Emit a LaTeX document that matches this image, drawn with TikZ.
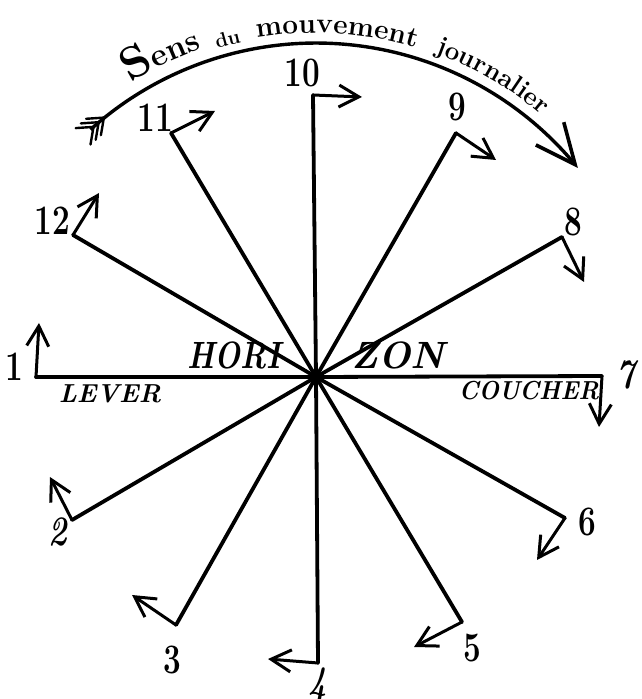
\documentclass[tikz,border=0pt]{standalone}
\usepackage{fontspec}
\usepackage{graphicx}
\usetikzlibrary{arrows.meta,bending,decorations.text}
\begin{document}
\begin{tikzpicture}[x=1pt,y=1pt,
  spoke/.style={line width=3.8pt, line cap=round},
  hookline/.style={line width=3pt, line cap=round, -{Straight Barb[length=20pt,width=22pt,line width=3pt]}},
  num/.style={inner sep=0pt, font=\fontsize{42}{42}\selectfont\bfseries},
  horiz/.style={inner sep=0pt, font=\fontsize{38}{38}\selectfont\bfseries\itshape},
  side/.style={inner sep=0pt, font=\fontsize{26}{26}\selectfont\bfseries\itshape},
  mainarc/.style={line width=3.4pt, -{Straight Barb[length=40pt,width=36pt,line width=3.6pt]}},
  feather/.style={line width=2.4pt, line cap=round}]
\useasboundingbox (0,0) rectangle (641,699);

% centre and arc centre
\coordinate (O) at (316,322);
\coordinate (AC) at (316,319);

% spoke corners (c) and hook tips (t)
\coordinate (c1) at (36,322);   \coordinate (t1) at (39,376);
\coordinate (c2) at (72,179);   \coordinate (t2) at (50,222);
\coordinate (c3) at (176,74);   \coordinate (t3) at (132,104);
\coordinate (c4) at (318,36);   \coordinate (t4) at (268,40);
\coordinate (c5) at (462,77);   \coordinate (t5) at (414,52);
\coordinate (c6) at (565,181);  \coordinate (t6) at (537,139);
\coordinate (c7) at (602,323);  \coordinate (t7) at (599,272);
\coordinate (c8) at (562,462);  \coordinate (t8) at (584,417);
\coordinate (c9) at (456,566);  \coordinate (t9) at (496,539);
\coordinate (c10) at (313,604); \coordinate (t10) at (362,602);
\coordinate (c11) at (171,566); \coordinate (t11) at (215,588);
\coordinate (c12) at (73,464);  \coordinate (t12) at (99,506);

\foreach \i in {1,...,12}{
  \draw[spoke] (O) -- (c\i);
  \draw[hookline] (c\i) -- (t\i);
}
\fill (O) circle (4);

% hour labels
\node[num] (l1) at (14,332) {\scalebox{0.75}[1]{1}};
\node[num] (l2) at (58,167) {\scalebox{0.75}[1]{\itshape 2}};
\node[num] (l3) at (172,39) {\scalebox{0.75}[1]{3}};
\node[num] (l4) at (318,13) {\scalebox{0.75}[1]{\itshape 4}};
\node[num] (l5) at (472,51) {\scalebox{0.75}[1]{5}};
\node[num] (l6) at (587,177) {\scalebox{0.75}[1]{6}};
\node[num] (l7) at (626,324) {\scalebox{0.75}[1]{\itshape 7}};
\node[num] (l8) at (573,477) {\scalebox{0.75}[1]{8}};
\node[num] (l9) at (457,592) {\scalebox{0.75}[1]{9}};
\node[num] (l10) at (302,626) {\scalebox{0.75}[1]{10}};
\node[num] (l11) at (155,581) {\scalebox{0.75}[1]{11}};
\node[num] (l12) at (52,478) {\scalebox{0.75}[1]{12}};

% horizon texts
\node[horiz] (hori) at (234,344) {\scalebox{0.8}[1]{HORI}};
\node[horiz] (zon) at (398,344) {ZON};
\node[side] (lever) at (110,305) {LEVER};
\node[side] (coucher) at (529,308) {\scalebox{0.92}[1]{COUCHER}};

% main arc with feathered tail
\coordinate (P) at (90.5,569.4);
\draw[mainarc] (P) arc[start angle=132, end angle=39, radius=337];
\coordinate (A0) at (93.5,572.1);  \coordinate (A0a) at (75.7,570.9); \coordinate (A0b) at (90.5,554.5);
\coordinate (A1) at (98.7,576.8);  \coordinate (A1a) at (80.9,575.6); \coordinate (A1b) at (95.7,559.2);
\coordinate (A2) at (103.9,581.4); \coordinate (A2a) at (86.1,580.2); \coordinate (A2b) at (100.9,563.8);
\foreach \k in {0,1,2}{
  \draw[feather] (A\k a) -- (A\k) -- (A\k b);
}

% title along the arc
\path[decorate, decoration={text along path, text align=left,
  text={|\fontsize{46}{46}\selectfont\bfseries|S|\fontsize{32}{32}\selectfont\bfseries|ens}}]
  (AC) ++(122:350) arc[start angle=122, end angle=70, radius=350];
\path[decorate, decoration={text along path, text align=left,
  text={|\fontsize{20}{20}\selectfont\bfseries|du}}]
  (AC) ++(106.6:346) arc[start angle=106.6, end angle=70, radius=346];
\path[decorate, decoration={text along path, text align=left,
  text={|\fontsize{28}{28}\selectfont\bfseries|mouvement}}]
  (AC) ++(99.8:347) arc[start angle=99.8, end angle=40, radius=347];
\path[decorate, decoration={text along path, text align=left,
  text={|\fontsize{26}{26}\selectfont\bfseries|journalier}}]
  (AC) ++(70:348) arc[start angle=70, end angle=10, radius=348];
\end{tikzpicture}
\end{document}
